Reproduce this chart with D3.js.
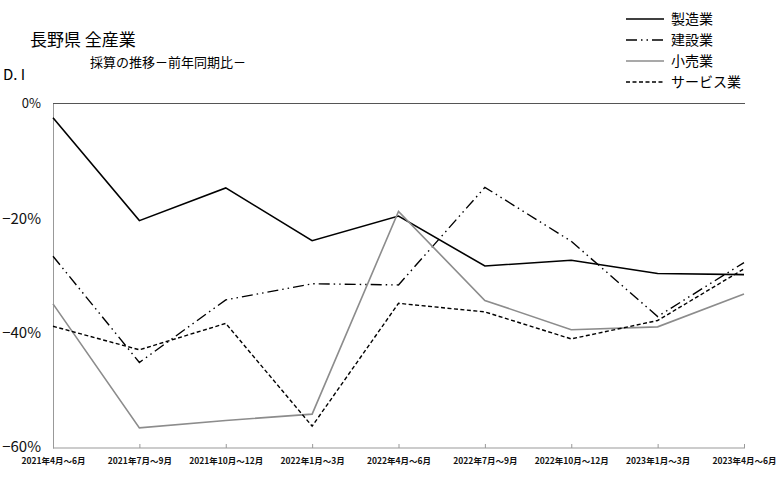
<!DOCTYPE html>
<html>
<head>
<meta charset="utf-8">
<script src="https://cdn.jsdelivr.net/npm/d3@7"></script>
<style>
body { margin: 0; background: #fff; }
text { font-family: "Noto Sans CJK JP", "Noto Sans", sans-serif; }
</style>
</head>
<body>
<script>
var width = 780;
var height = 477;

var periods = ['2021年4月～6月', '2021年7月～9月', '2021年10月～12月', '2022年1月～3月',
    '2022年4月～6月', '2022年7月～9月', '2022年10月～12月', '2023年1月～3月', '2023年4月～6月'];
var seriesNames = ['製造業', '建設業', '小売業', 'サービス業'];
var seisan = [-2.5, -20.4, -14.7, -23.9, -19.6, -28.3, -27.3, -29.6, -29.8];
var kensetsu = [-26.6, -45.1, -34.2, -31.4, -31.6, -14.6, -24.0, -37.1, -27.7];
var kouri = [-34.9, -56.5, -55.2, -54.1, -18.8, -34.3, -39.4, -38.9, -33.2];
var service = [-38.8, -42.9, -38.3, -56.2, -34.8, -36.3, -41.0, -37.8, -28.8];
var yTicks = [0, -20, -40, -60];

var styles = [
    {color: '#000', dash: null, w: 1.6},
    {color: '#000', dash: '11,4,1.5,4,1.5,4', w: 1.4},
    {color: '#8c8c8c', dash: null, w: 1.6},
    {color: '#000', dash: '4,2.5', w: 1.4}
]
var allSeries = [seisan, kensetsu, kouri, service];

var svg = d3.select('body').append('svg')
    .attr('width', width)
    .attr('height', height)

// plot edges (window.top is reserved, so use other names)
var pLeft = 53, pRight = 744, pTop = 103.5, pBottom = 448;

var x = d3.scalePoint().domain(periods).range([pLeft, pRight]);
var y = d3.scaleLinear().domain([-60, 0]).range([pBottom, pTop]);

// titles
svg.append('text').attr('x', 30).attr('y', 46).attr('font-size', 17).text('長野県 全産業')
svg.append('text').attr('x', 90).attr('y', 67).attr('font-size', 13).text('採算の推移－前年同期比－')
svg.append('text').attr('x', 3).attr('y', 80).attr('font-size', 15).text('D. I')

// axes
var xAxis = svg.append('g')
    .attr('transform', 'translate(0,' + pBottom + ')')
    .call(d3.axisBottom(x).tickSize(-4).tickPadding(10))
xAxis.select('.domain').attr('stroke', '#999').attr('d', 'M' + pLeft + ',0H' + (pRight + 1))
xAxis.selectAll('.tick line').attr('stroke', '#999')
xAxis.selectAll('.tick text')
    .attr('font-size', 8.5)
    .attr('font-weight', 'bold')
    .attr('fill', '#111')
    .attr('font-family', '"Noto Sans CJK JP", sans-serif')

var yAxis = svg.append('g')
    .attr('transform', 'translate(' + pLeft + ',0)')
    .call(d3.axisLeft(y).tickValues(yTicks).tickSize(0).tickPadding(12)
        .tickFormat(d => (d < 0 ? '−' + (-d) : d) + '%'))
yAxis.select('.domain').attr('stroke', '#999')
yAxis.selectAll('.tick text')
    .attr('font-size', 15)
    .attr('fill', '#111')
    .attr('font-family', '"Liberation Sans", Arial, sans-serif')
yAxis.selectAll('.tick').filter(d => d == 0).select('text').attr('font-size', 13)
yAxis.selectAll('.tick').filter(d => d == -60).select('text').attr('dy', '0.2em')

// 0% line
svg.append('line')
    .attr('x1', pLeft).attr('x2', pRight + 1)
    .attr('y1', y(0)).attr('y2', y(0))
    .attr('stroke', '#555').attr('stroke-width', 1.2)

var line = d3.line()
    .x((d, i) => x(periods[i]))
    .y(d => y(d))

svg.append('g').selectAll('path')
    .data(allSeries)
    .enter()
    .append('path')
        .attr('d', d => line(d))
        .attr('fill', 'none')
        .attr('stroke', (d, i) => styles[i].color)
        .attr('stroke-width', (d, i) => styles[i].w)
        .attr('stroke-dasharray', (d, i) => styles[i].dash)

// legend
var legend = svg.append('g').selectAll('g')
    .data(seriesNames)
    .enter()
    .append('g')
        .attr('transform', (d, i) => 'translate(626,' + (19 + i * 21) + ')')
legend.append('line')
    .attr('x1', 0).attr('x2', 38)
    .attr('stroke', (d, i) => styles[i].color)
    .attr('stroke-width', (d, i) => styles[i].w)
    .attr('stroke-dasharray', (d, i) => styles[i].dash)
legend.append('text')
    .attr('x', 45).attr('y', 5)
    .attr('font-size', 14)
    .text(d => d)
</script>
</body>
</html>
